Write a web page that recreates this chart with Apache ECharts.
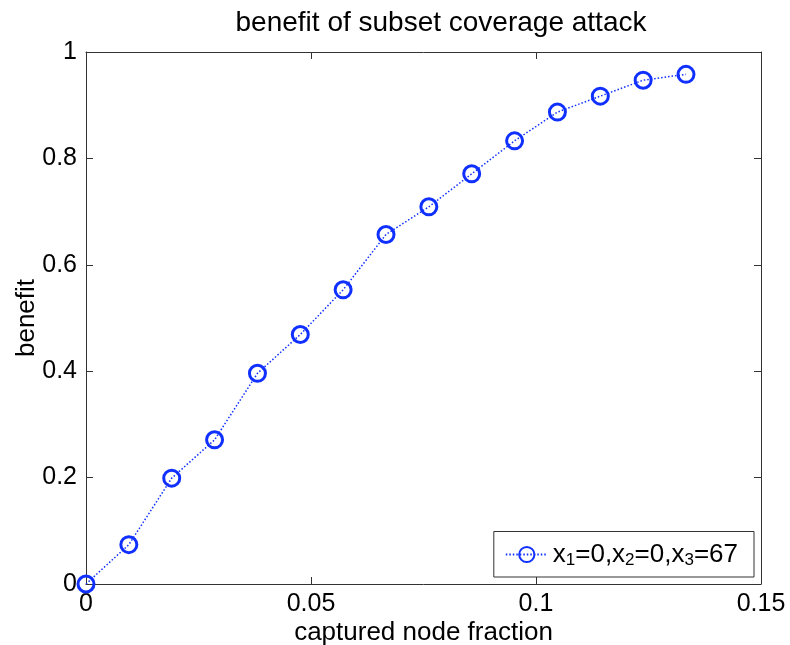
<!DOCTYPE html>
<html>
<head>
<meta charset="utf-8">
<script src="https://cdn.jsdelivr.net/npm/echarts@6/dist/echarts.min.js"></script>
<style>html,body{margin:0;padding:0;background:#fff}#c{width:790px;height:645px}</style>
</head>
<body>
<div id="c"></div>
<script>
const xValues = [0, 0.00952, 0.01905, 0.02857, 0.0381, 0.04762, 0.05714, 0.06667, 0.07619, 0.08571, 0.09524, 0.10476, 0.11429, 0.12381, 0.13333];
const benefit = [0, 0.074, 0.199, 0.271, 0.396, 0.469, 0.553, 0.657, 0.709, 0.771, 0.833, 0.887, 0.917, 0.947, 0.958];
const xTicks = [0, 0.05, 0.1, 0.15];
const yTicks = [0, 0.2, 0.4, 0.6, 0.8, 1];
const seriesName = 'x{sub|1}=0,x{sub|2}=0,x{sub|3}=67';

const FONT = 'Liberation Sans, Arial, sans-serif';
const BLUE = '#1030ff';
const chart = echarts.init(document.getElementById('c'));
const axisCommon = {
  axisLine: {show: true, onZero: false, lineStyle: {color: '#333', width: 1}},
  axisTick: {show: true, inside: true, length: 7, lineStyle: {color: '#333'}},
  splitLine: {show: false}
};
chart.setOption({
  animation: false,
  backgroundColor: '#fff',
  title: {
    text: 'benefit of subset coverage attack',
    left: 436, top: 4, textAlign: 'center',
    textStyle: {fontFamily: FONT, fontSize: 28, fontWeight: 'normal', color: '#000'}
  },
  grid: {left: 86, right: 29, top: 52, bottom: 61, containLabel: false, outerBoundsMode: 'none'},
  legend: {
    right: 36, bottom: 68,
    orient: 'vertical',
    backgroundColor: '#fff',
    borderColor: '#333', borderWidth: 1,
    padding: [10, 16, 8, 11],
    itemWidth: 42, itemHeight: 19, itemGap: 0,
    textStyle: {
      fontFamily: FONT, fontSize: 26, color: '#000',
      rich: {sub: {fontFamily: FONT, fontSize: 17, color: '#000', verticalAlign: 'bottom', padding: [12, 0, 0, 0]}}
    },
    data: [seriesName]
  },
  xAxis: [
    Object.assign({
      type: 'value', min: 0, max: 0.15, interval: 0.05,
      name: 'captured node fraction', nameLocation: 'middle', nameGap: 36, nameMoveOverlap: false,
      nameTextStyle: {fontFamily: FONT, fontSize: 26, color: '#000'},
      axisLabel: {fontFamily: FONT, fontSize: 25, color: '#000', margin: 8,
        formatter: v => { const t = xTicks.find(k => Math.abs(k - v) < 1e-9); return t === undefined ? '' : String(t); }}
    }, axisCommon),
    Object.assign({
      type: 'value', min: 0, max: 0.15, interval: 0.05, position: 'top', axisLabel: {show: false}
    }, axisCommon)
  ],
  yAxis: [
    Object.assign({
      type: 'value', min: 0, max: 1, interval: 0.2,
      name: 'benefit', nameLocation: 'middle', nameGap: 46, nameMoveOverlap: false,
      nameTextStyle: {fontFamily: FONT, fontSize: 26, color: '#000'},
      axisLabel: {fontFamily: FONT, fontSize: 25, color: '#000', margin: 9,
        formatter: v => { const t = yTicks.find(k => Math.abs(k - v) < 1e-9); return t === undefined ? '' : String(t); }}
    }, axisCommon),
    Object.assign({
      type: 'value', min: 0, max: 1, interval: 0.2, position: 'right', axisLabel: {show: false}
    }, axisCommon)
  ],
  series: [{
    name: seriesName,
    type: 'line',
    data: xValues.map((x, i) => [x, benefit[i]]),
    symbol: 'circle',
    symbolSize: 16,
    showAllSymbol: true,
    clip: false,
    lineStyle: {color: BLUE, width: 1.5, type: [1.5, 2]},
    itemStyle: {color: 'rgba(255,255,255,0)', borderColor: BLUE, borderWidth: 3},
    z: 3
  }]
});
</script>
</body>
</html>
